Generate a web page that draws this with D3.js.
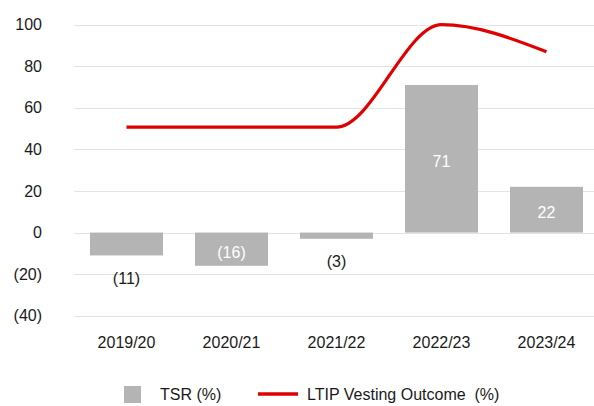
<!DOCTYPE html>
<html>
<head>
<meta charset="utf-8">
<script src="https://cdn.jsdelivr.net/npm/d3@7"></script>
<style>
  html, body { margin: 0; padding: 0; background: #fff; }
  svg { display: block; font-family: "Liberation Sans", Arial, sans-serif; }
</style>
</head>
<body>
<svg id="chart" width="594" height="406"></svg>
<script>
// Performance years
const years = ["2019/20", "2020/21", "2021/22", "2022/23", "2023/24"];
// Total shareholder return, %
const tsr = [-11, -16, -3, 71, 22];
// LTIP vesting outcome, %
const ltip = [50.7, 50.7, 50.7, 100, 87];
// Value axis ticks
const yTicks = [-40, -20, 0, 20, 40, 60, 80, 100];

const fmt = v => v < 0 ? `(${Math.abs(v)})` : `${v}`;
const FS = 16;

const svg = d3.select("#chart");
const W = 594;

const x = d3.scaleBand().domain(years).range([74, 599]).paddingInner(0.305).paddingOuter(0.1525);
const y = d3.scaleLinear().domain([-40, 100]).range([315.7, 24.7]);

// Gridlines
svg.append("g")
  .selectAll("line")
  .data(yTicks)
  .join("line")
  .attr("x1", 74).attr("x2", W)
  .attr("y1", d => Math.round(y(d)) + 0.5).attr("y2", d => Math.round(y(d)) + 0.5)
  .attr("stroke", "#e3e3e3").attr("stroke-width", 1.2);

// Value axis labels
const yAxis = d3.axisLeft(y).tickValues(yTicks).tickFormat(fmt).tickSize(0).tickPadding(0);
const gy = svg.append("g").attr("transform", "translate(42,0)").call(yAxis);
gy.select(".domain").remove();
gy.selectAll("text").attr("font-size", FS).attr("fill", "#1a1a1a").attr("font-family", "Liberation Sans, Arial, sans-serif");

// Category labels
const xAxis = d3.axisBottom(x).tickSize(0).tickPadding(0);
const gx = svg.append("g").attr("transform", "translate(0,337)").call(xAxis);
gx.select(".domain").remove();
gx.selectAll("text").attr("font-size", FS).attr("fill", "#1a1a1a").attr("font-family", "Liberation Sans, Arial, sans-serif");

// TSR bars
svg.append("g")
  .selectAll("rect")
  .data(tsr)
  .join("rect")
  .attr("x", (d, i) => x(years[i]))
  .attr("width", x.bandwidth())
  .attr("y", d => Math.min(y(d), y(0)))
  .attr("height", d => Math.abs(y(d) - y(0)))
  .attr("fill", "#b4b4b4");

// TSR value labels: inside the bar when it fits, otherwise just beyond its end
svg.append("g")
  .selectAll("text")
  .data(tsr)
  .join("text")
  .attr("x", (d, i) => x(years[i]) + x.bandwidth() / 2)
  .attr("y", d => {
    const h = Math.abs(y(d) - y(0));
    if (h >= 28) return (y(d) + y(0)) / 2 + 3;
    return y(d) + 22.5;
  })
  .attr("dy", "0.35em")
  .attr("text-anchor", "middle")
  .attr("font-size", FS)
  .attr("fill", d => Math.abs(y(d) - y(0)) >= 28 ? "#ffffff" : "#1a1a1a")
  .text(fmt);

// LTIP line
const line = d3.line()
  .x((d, i) => x(years[i]) + x.bandwidth() / 2)
  .y(d => y(d))
  .curve(d3.curveMonotoneX);

svg.append("path")
  .datum(ltip)
  .attr("d", line)
  .attr("fill", "none")
  .attr("stroke", "#e00000")
  .attr("stroke-width", 3.2);

// Legend
const lg = svg.append("g");
lg.append("rect").attr("x", 124).attr("y", 386).attr("width", 17).attr("height", 17).attr("fill", "#b4b4b4");
lg.append("text").attr("x", 160).attr("y", 394.5).attr("dy", "0.35em").attr("font-size", FS).attr("fill", "#1a1a1a").text("TSR (%)");
lg.append("line").attr("x1", 258).attr("x2", 298).attr("y1", 394).attr("y2", 394).attr("stroke", "#e00000").attr("stroke-width", 3.5);
lg.append("text").attr("x", 307).attr("y", 394.5).attr("dy", "0.35em").attr("font-size", FS).attr("fill", "#1a1a1a")
  .attr("xml:space", "preserve").style("white-space", "pre").text("LTIP Vesting Outcome  (%)");
</script>
</body>
</html>
